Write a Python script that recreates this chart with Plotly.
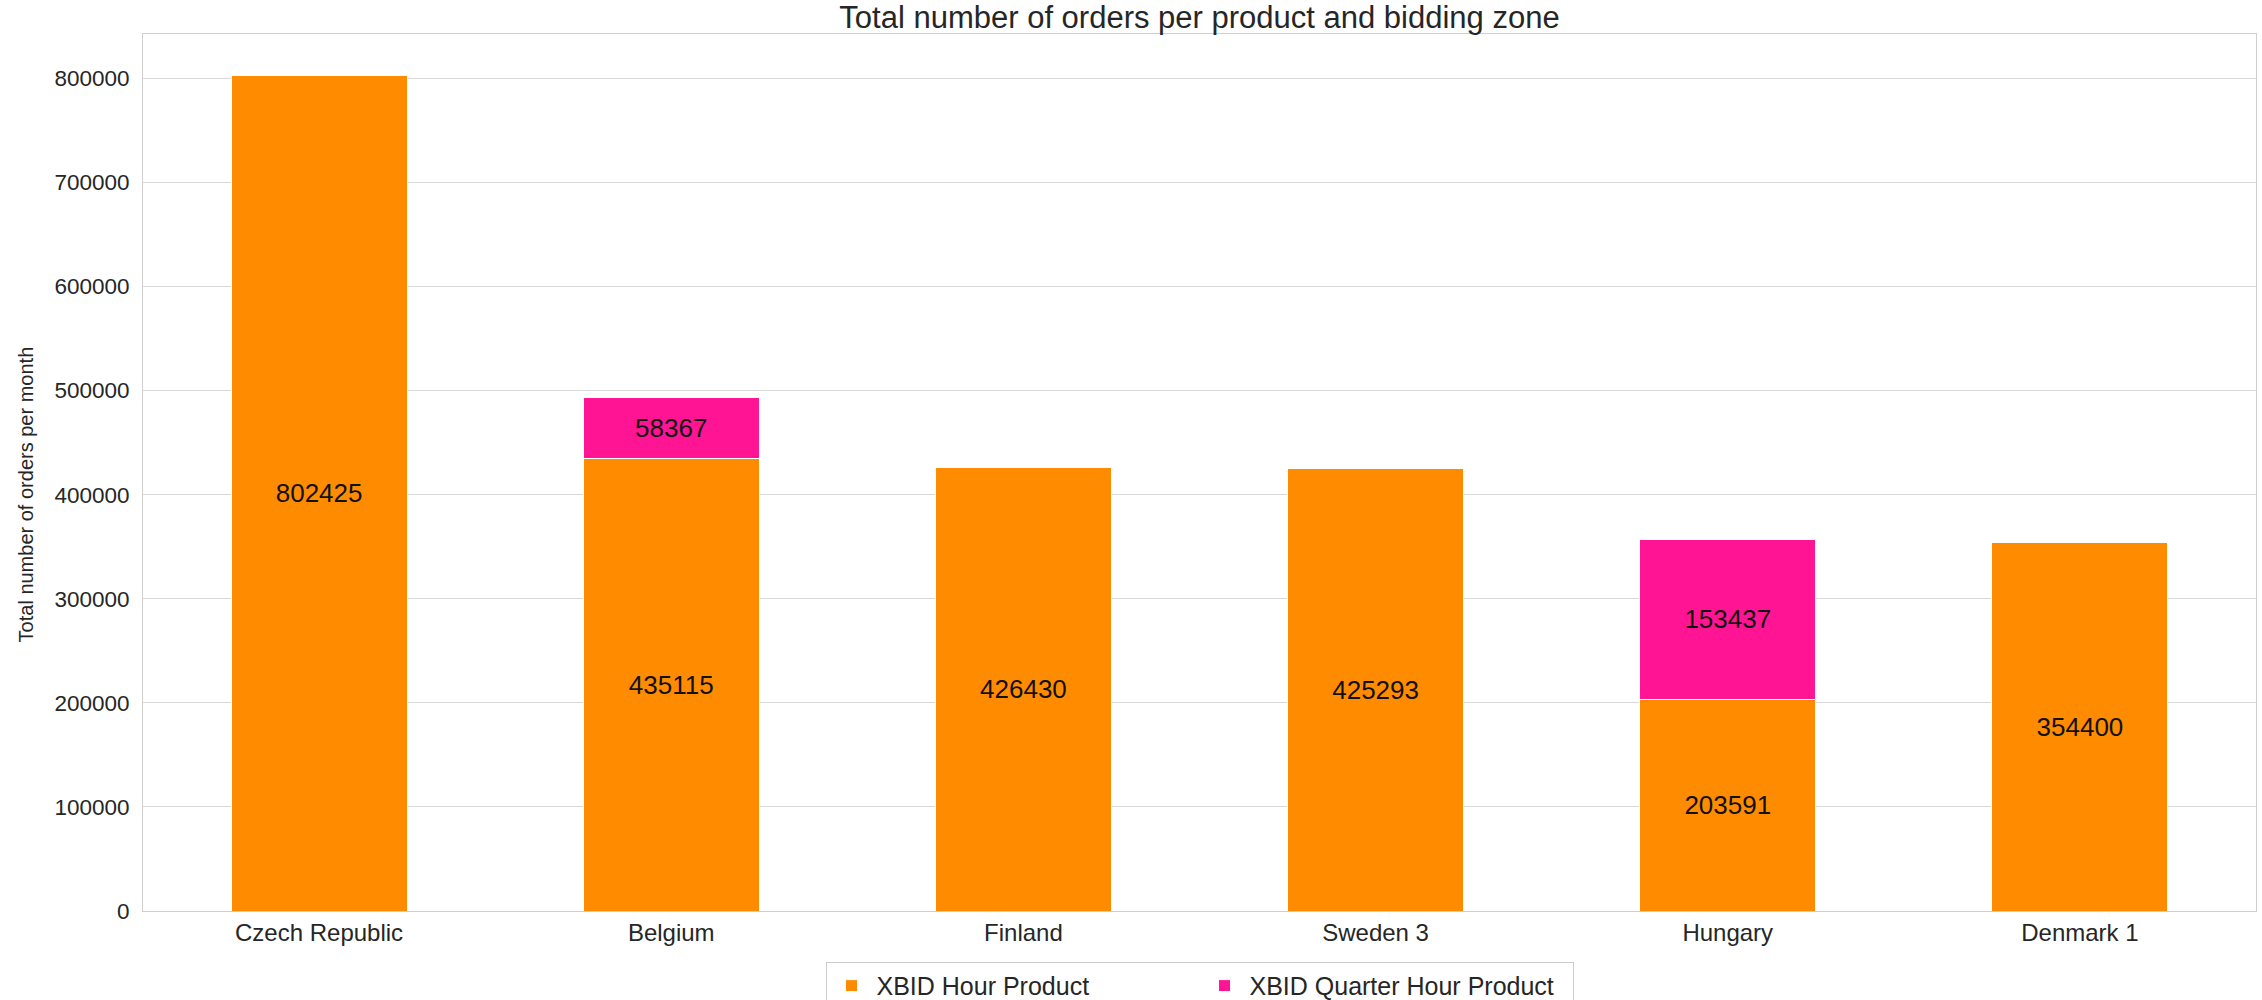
import plotly.graph_objects as go

# ---- data ----
zones = ["Czech Republic", "Belgium", "Finland", "Sweden 3", "Hungary", "Denmark 1"]
hour_product = [802425, 435115, 426430, 425293, 203591, 354400]
quarter_hour_product = [None, 58367, None, None, 153437, None]
series_names = ["XBID Hour Product", "XBID Quarter Hour Product"]
series_colors = ["#FF8C00", "#FF1493"]
y_ticks = [0, 100000, 200000, 300000, 400000, 500000, 600000, 700000, 800000]

FONT = "Liberation Sans, Arial, Helvetica, sans-serif"
TXT = "#262626"

def labels(vals):
    return [str(v) if v else "" for v in vals]

fig = go.Figure()
for name, vals, col in zip(series_names, [hour_product, quarter_hour_product], series_colors):
    fig.add_trace(go.Bar(
        x=zones, y=vals, name=name, width=0.5,
        marker=dict(color=col, line=dict(color="white", width=1)),
        text=labels(vals), textposition="inside", insidetextanchor="middle",
        textangle=0, constraintext="none",
        textfont=dict(family=FONT, size=26, color="#111111"),
    ))

stack_max = max(h + (q or 0) for h, q in zip(hour_product, quarter_hour_product))

fig.add_annotation(text="Total number of orders per month", textangle=-90,
                   xref="paper", yref="paper", x=0, y=0.475, xshift=-117,
                   xanchor="center", yanchor="middle", showarrow=False,
                   font=dict(size=20, color=TXT, family=FONT))

fig.update_layout(
    width=2262, height=1000,
    barmode="stack",
    paper_bgcolor="white", plot_bgcolor="white",
    margin=dict(l=143, r=6, t=34, b=89, autoexpand=False),
    font=dict(family=FONT, color=TXT),
    title=dict(text="Total number of orders per product and bidding zone",
               x=0.5, xref="paper", xanchor="center",
               y=0.983, yref="container", yanchor="middle",
               font=dict(size=31, color=TXT, family=FONT)),
    xaxis=dict(range=[-0.5, 5.5], showgrid=False, showline=True, mirror=True,
               linecolor="#d0d0d0", linewidth=1, ticks="",
               tickfont=dict(size=24, color=TXT, family=FONT)),
    yaxis=dict(range=[0, stack_max * 1.05], tickvals=y_ticks, tickformat="d",
               showgrid=True, gridcolor="#d9d9d9", gridwidth=1,
               zeroline=False, showline=True, mirror=True,
               linecolor="#d0d0d0", linewidth=1, ticks="",
               ticklabelstandoff=8,
               tickfont=dict(size=22.5, color=TXT, family=FONT)),
    legend=dict(orientation="h", x=0.5, xanchor="center", y=-0.058, yanchor="top",
                xref="paper", yref="paper",
                bordercolor="#cccccc", borderwidth=1, bgcolor="white",
                font=dict(size=25, color=TXT, family=FONT),
                itemwidth=40, entrywidth=318, traceorder="normal"),
    showlegend=True,
)

fig.write_html("out.html", config={"displayModeBar": False},
               post_script="document.body.style.margin='0';document.body.style.overflow='hidden';")
